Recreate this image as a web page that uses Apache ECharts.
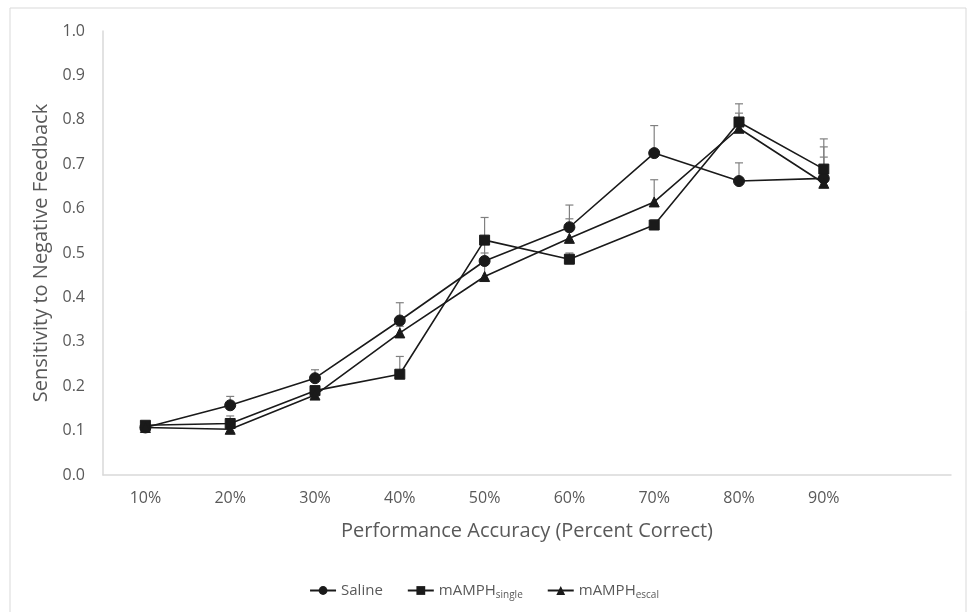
<!DOCTYPE html>
<html>
<head>
<meta charset="utf-8">
<script src="https://cdn.jsdelivr.net/npm/echarts@6/dist/echarts.min.js"></script>
<style>
  html, body { margin: 0; padding: 0; background: #fff; }
  #chart { width: 968px; height: 612px; }
</style>
</head>
<body>
<div id="chart"></div>
<script>
// Category labels (the trailing blank keeps an empty band on the right)
const categories = ['10%', '20%', '30%', '40%', '50%', '60%', '70%', '80%', '90%', ''];

// Mean sensitivity to negative feedback per accuracy bin
const saline = [0.107, 0.157, 0.218, 0.348, 0.482, 0.558, 0.725, 0.662, 0.668];
const single = [0.112, 0.116, 0.190, 0.227, 0.529, 0.486, 0.563, 0.795, 0.689];
const escal  = [0.107, 0.103, 0.180, 0.320, 0.447, 0.533, 0.615, 0.781, 0.657];

// Upper ends of the error bars (mean + SEM)
const salineUpper = [0.112, 0.177, 0.237, 0.388, 0.530, 0.608, 0.787, 0.703, 0.739];
const singleUpper = [0.117, 0.133, 0.200, 0.267, 0.580, 0.500, 0.575, 0.836, 0.757];
const escalUpper  = [0.112, 0.110, 0.195, 0.335, 0.500, 0.577, 0.665, 0.815, 0.716];

const yTicks = { min: 0, max: 1, interval: 0.1 };

const ink = '#1a1a1a';
const textGrey = '#595959';
const axisGrey = '#d9d9d9';
const barGrey = '#808080';

function errorSeries(name, means, uppers) {
  const data = means.map((m, i) => [i, m, uppers[i]]);
  return {
    type: 'custom',
    name: name + ' err',
    z: 1,
    silent: true,
    renderItem(params, api) {
      const i = api.value(0);
      const lo = api.coord([i, api.value(1)]);
      const hi = api.coord([i, api.value(2)]);
      const cap = 4;
      return {
        type: 'group',
        children: [
          { type: 'line', shape: { x1: lo[0], y1: lo[1], x2: hi[0], y2: hi[1] },
            style: { stroke: barGrey, lineWidth: 1.2 } },
          { type: 'line', shape: { x1: hi[0] - cap, y1: hi[1], x2: hi[0] + cap, y2: hi[1] },
            style: { stroke: barGrey, lineWidth: 1.2 } }
        ]
      };
    },
    data: data
  };
}

function lineSeries(name, values, symbol, size) {
  return {
    type: 'line',
    name: name,
    z: 3,
    data: values,
    symbol: symbol,
    symbolSize: size,
    showAllSymbol: true,
    lineStyle: { color: ink, width: 1.6 },
    itemStyle: { color: ink, borderColor: ink },
    emphasis: { disabled: true }
  };
}

const chart = echarts.init(document.getElementById('chart'), null, { renderer: 'canvas' });

chart.setOption({
  animation: false,
  backgroundColor: '#fff',
  textStyle: { fontFamily: 'Open Sans' },
  graphic: [{
    type: 'rect',
    shape: { x: 10, y: 8, width: 956, height: 620 },
    style: { fill: 'none', stroke: axisGrey, lineWidth: 1 },
    silent: true
  }],
  grid: { left: 103, right: 17, top: 31, bottom: 137 },
  legend: {
    bottom: 7,
    left: 'center',
    itemWidth: 26,
    itemHeight: 11,
    itemGap: 24,
    data: ['Saline', 'mAMPH_single', 'mAMPH_escal'],
    textStyle: {
      color: textGrey, fontSize: 15, fontFamily: 'Open Sans',
      rich: {
        m: { fontSize: 15, color: textGrey, fontFamily: 'Open Sans' },
        s: { fontSize: 10, color: textGrey, fontFamily: 'Open Sans', padding: [9, 0, 0, 0] }
      }
    },
    formatter(name) {
      const parts = name.split('_');
      if (parts.length === 1) return '{m|' + name + '}';
      return '{m|' + parts[0] + '}{s|' + parts[1] + '}';
    }
  },
  xAxis: {
    type: 'category',
    data: categories,
    boundaryGap: true,
    name: 'Performance Accuracy (Percent Correct)',
    nameLocation: 'middle',
    nameGap: 46,
    nameTextStyle: { color: textGrey, fontSize: 20, fontFamily: 'Open Sans' },
    axisLine: { lineStyle: { color: axisGrey, width: 1.5 } },
    axisTick: { show: false },
    axisLabel: { color: textGrey, fontSize: 16, margin: 15, fontFamily: 'Open Sans' },
    splitLine: { show: false }
  },
  yAxis: {
    type: 'value',
    min: yTicks.min,
    max: yTicks.max,
    interval: yTicks.interval,
    name: 'Sensitivity to Negative Feedback',
    nameLocation: 'middle',
    nameGap: 46,
    nameTextStyle: { color: textGrey, fontSize: 20, fontFamily: 'Open Sans' },
    axisLine: { show: true, lineStyle: { color: axisGrey, width: 1.5 } },
    axisTick: { show: false },
    axisLabel: { color: textGrey, fontSize: 16, margin: 18, fontFamily: 'Open Sans',
                 formatter: v => v.toFixed(1) },
    splitLine: { show: false }
  },
  series: [
    errorSeries('Saline', saline, salineUpper),
    errorSeries('mAMPH_single', single, singleUpper),
    errorSeries('mAMPH_escal', escal, escalUpper),
    lineSeries('Saline', saline, 'circle', 11),
    lineSeries('mAMPH_single', single, 'rect', 10),
    lineSeries('mAMPH_escal', escal, 'triangle', 10)
  ]
});
</script>
</body>
</html>
